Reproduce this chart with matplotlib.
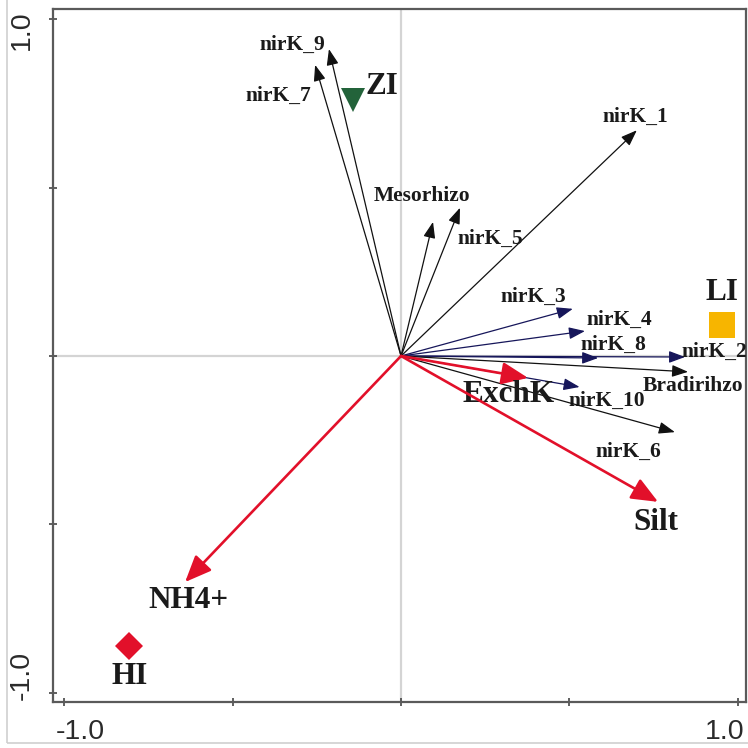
import matplotlib

matplotlib.use("Agg")
import matplotlib.pyplot as plt
from matplotlib.patches import Rectangle
from matplotlib.transforms import ScaledTranslation

# Species (nirK OTUs and genera) loadings on the two ordination axes
SPECIES = ["nirK_9", "nirK_7", "nirK_1", "Mesorhizo", "nirK_5", "nirK_3",
           "nirK_4", "nirK_8", "nirK_2", "Bradirihzo", "nirK_10", "nirK_6"]
SPECIES_X = [-0.214, -0.255, 0.700, 0.095, 0.175, 0.510,
             0.546, 0.585, 0.843, 0.852, 0.530, 0.813]
SPECIES_Y = [0.911, 0.864, 0.670, 0.398, 0.440, 0.140,
             0.074, -0.006, -0.003, -0.047, -0.092, -0.226]

# Environmental variables
ENV = ["ExchK", "Silt", "NH4+"]
ENV_X = [0.377, 0.763, -0.641]
ENV_Y = [-0.065, -0.433, -0.671]

# Sample groups
SITES = ["ZI", "LI", "HI"]
SITE_X = [-0.142, 0.953, -0.807]
SITE_Y = [0.760, 0.092, -0.862]

# label anchor points (data units)
SPECIES_LABEL_POS = {
    "nirK_9": (-0.323, 0.923), "nirK_7": (-0.365, 0.772),
    "nirK_1": (0.697, 0.709), "Mesorhizo": (0.062, 0.475),
    "nirK_5": (0.264, 0.347), "nirK_3": (0.392, 0.175),
    "nirK_4": (0.647, 0.107), "nirK_8": (0.629, 0.033),
    "nirK_2": (0.929, 0.012), "Bradirihzo": (0.866, -0.089),
    "nirK_10": (0.611, -0.134), "nirK_6": (0.674, -0.285),
}
ENV_LABEL_POS = {"ExchK": (0.320, -0.113), "Silt": (0.757, -0.493),
                 "NH4+": (-0.632, -0.727)}
SITE_LABEL_POS = {"ZI": (-0.056, 0.801), "LI": (0.953, 0.187),
                  "HI": (-0.807, -0.950)}
SITE_STYLE = {"ZI": ("v", "#23633a", 17), "LI": ("s", "#f7b500", 19),
              "HI": ("D", "#e2102a", 14)}
NAVY_HEADS = {"nirK_3", "nirK_4", "nirK_8", "nirK_2", "nirK_10"}

RED = "#e2102a"
SERIF = "Liberation Serif"
SANS = "Liberation Sans"

fig = plt.figure(figsize=(7.48, 7.48), dpi=100)
ax = fig.add_axes([0.0709, 0.0615, 0.9264, 0.9265])
ax.set_xlim(-1.033, 1.024)
ax.set_ylim(-1.027, 1.030)

# light outer frame around the figure
fig.patches.append(Rectangle((7 / 748, 5 / 748), 2, 2, transform=fig.transFigure,
                             fill=False, edgecolor="#cfcfcf", linewidth=1.2))

ax.axhline(0, color="#d4d4d4", linewidth=1.6, zorder=0)
ax.axvline(0, color="#d4d4d4", linewidth=1.6, zorder=0)

for name, x, y in zip(SPECIES, SPECIES_X, SPECIES_Y):
    col = "#16165a" if name in NAVY_HEADS else "#111111"
    ax.annotate("", xy=(x, y), xytext=(0, 0),
                arrowprops=dict(arrowstyle="-|>,head_length=0.75,head_width=0.28",
                                mutation_scale=13, color=col, linewidth=0.9,
                                shrinkA=0, shrinkB=0))
    lx, ly = SPECIES_LABEL_POS[name]
    ax.text(lx, ly, name, ha="center", va="center", fontsize=15.5,
            fontweight="bold", family=SERIF, color="#1a1a1a")

for name, x, y in zip(ENV, ENV_X, ENV_Y):
    ax.annotate("", xy=(x, y), xytext=(0, 0),
                arrowprops=dict(arrowstyle="-|>,head_length=0.9,head_width=0.38",
                                mutation_scale=18, color=RED, linewidth=1.9,
                                shrinkA=0, shrinkB=0))
    lx, ly = ENV_LABEL_POS[name]
    ax.text(lx, ly, name, ha="center", va="center", fontsize=22.5,
            fontweight="bold", family=SERIF, color="#1a1a1a")

for name, x, y in zip(SITES, SITE_X, SITE_Y):
    marker, color, size = SITE_STYLE[name]
    ax.plot(x, y, marker=marker, color=color, markersize=size,
            markeredgewidth=0, linestyle="none", zorder=5)
    lx, ly = SITE_LABEL_POS[name]
    ax.text(lx, ly, name, ha="center", va="center", fontsize=22.5,
            fontweight="bold", family=SERIF, color="#1a1a1a")

for sp in ax.spines.values():
    sp.set_color("#5a5a5a")
    sp.set_linewidth(1.6)

ax.set_xticks([-1, -0.5, 0, 0.5, 1])
ax.set_xticklabels(["-1.0", "", "", "", "1.0"])
ax.set_yticks([-1, -0.5, 0, 0.5, 1])
ax.set_yticklabels(["-1.0", "", "", "", "1.0"], rotation=90, va="center")
ax.tick_params(direction="inout", length=6, width=1.2, color="#444444",
               labelsize=20.5, labelcolor="#2a2a2a")
ax.tick_params(axis="x", pad=9)
ax.tick_params(axis="y", pad=10)
for lab in ax.get_xticklabels() + ax.get_yticklabels():
    lab.set_family(SANS)

# nudge the end labels inward so they sit inside the frame span
xl = ax.get_xticklabels()
yl = ax.get_yticklabels()
shifts = [(xl[0], 16, 0), (xl[-1], -13, 0), (yl[0], 0, 17), (yl[-1], 0, -11)]
for lab, dx, dy in shifts:
    lab.set_transform(lab.get_transform()
                      + ScaledTranslation(dx / 100, dy / 100, fig.dpi_scale_trans))

fig.savefig("out.png", dpi=100)
